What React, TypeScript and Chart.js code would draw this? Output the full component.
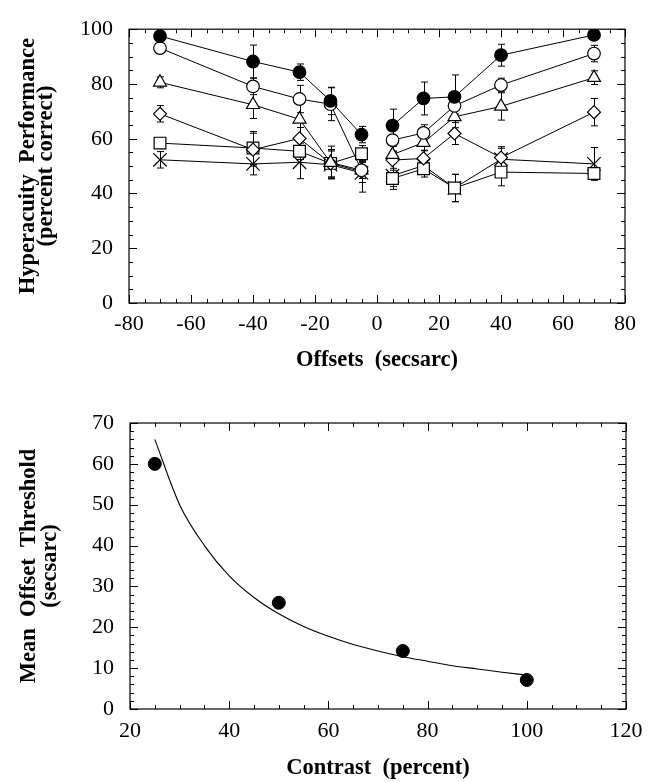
import React, { useEffect, useRef } from "react";
import { Chart, registerables } from "chart.js";

Chart.register(...registerables);

// ---------- Top panel data ----------
const offsets = [-70, -40, -25, -15, -5, 5, 15, 25, 40, 70];
const filledCircle = [97.5, 88.2, 84.3, 73.8, 61.5, 64.8, 74.7, 75.3, 90.5, 97.9];
const filledCircleErr = [1.5, 6, 3, 5, 3, 6, 6, 8, 4, 1.5];
const openCircle = [93.1, 79.1, 74.5, 72.6, 48.5, 59.5, 62.1, 72.0, 79.6, 91.1];
const openCircleErr = [1.5, 3, 5, 6, 3, 4, 3, 3, 2.5, 3];
const triangle = [80.6, 72.4, 67.1, 51.3, 48.5, 54.2, 58.6, 68.0, 71.8, 82.3];
const triangleErr = [2, 5, 6, 6, 3, 3, 3, 4, 5, 2.5];
const diamond = [69.1, 56.0, 60.1, 51.0, 48.0, 52.2, 52.8, 61.9, 53.1, 69.7];
const diamondErr = [3, 6, 4, 5, 4, 3, 3, 4, 4, 5];
const square = [58.4, 56.6, 55.4, 51.0, 54.5, 45.5, 49.0, 42.0, 47.8, 47.3];
const squareErr = [2, 6, 3, 5, 3, 3, 3, 5, 5, 2];
const cross = [52.3, 50.8, 51.4, 50.5, 47.5, 46.5, 50.2, 42.0, 52.5, 50.8];
const crossErr = [3, 4, 6, 5, 7, 5, 3, 5, 4, 6];

const topXTicks = [-80, -60, -40, -20, 0, 20, 40, 60, 80];
const topYTicks = [0, 20, 40, 60, 80, 100];

// ---------- Bottom panel data ----------
const contrast = [25, 50, 75, 100];
const threshold = [60, 26, 14.2, 7.1];
const fitContrast = [25, 30, 35, 40, 45, 50, 55, 60, 65, 70, 75, 80, 85, 90, 95, 100];
const fitThreshold = [66, 50, 40, 32.6, 27.3, 23.3, 20.2, 17.8, 15.8, 14.2, 12.8, 11.7, 10.6, 9.8, 9.0, 8.3];

const bottomXTicks = [20, 40, 60, 80, 100, 120];
const bottomYTicks = [0, 10, 20, 30, 40, 50, 60, 70];

const SERIF = "'Liberation Serif', 'Times New Roman', serif";

function range(min: number, max: number, step: number) {
  const out: number[] = [];
  for (let v = min; v <= max + 1e-9; v += step) out.push(Math.round(v * 1000) / 1000);
  return out;
}

const frameTicksPlugin = {
  id: "frameTicks",
  afterDraw(chart: any) {
    const o = chart.options.plugins.frameTicks;
    if (!o) return;
    const { ctx, chartArea: a } = chart;
    const x = chart.scales.x;
    const y = chart.scales.y;
    ctx.save();
    ctx.strokeStyle = "#000";
    ctx.lineWidth = 1.2;
    ctx.strokeRect(a.left, a.top, a.right - a.left, a.bottom - a.top);
    ctx.lineWidth = 1;
    const drawX = (vals: number[], len: number) => {
      vals.forEach((v) => {
        const px = Math.round(x.getPixelForValue(v)) + 0.5;
        ctx.beginPath();
        ctx.moveTo(px, a.bottom);
        ctx.lineTo(px, a.bottom - len);
        ctx.moveTo(px, a.top);
        ctx.lineTo(px, a.top + len);
        ctx.stroke();
      });
    };
    const drawY = (vals: number[], len: number) => {
      vals.forEach((v) => {
        const py = Math.round(y.getPixelForValue(v)) + 0.5;
        ctx.beginPath();
        ctx.moveTo(a.left, py);
        ctx.lineTo(a.left + len, py);
        ctx.moveTo(a.right, py);
        ctx.lineTo(a.right - len, py);
        ctx.stroke();
      });
    };
    drawX(o.xMinor, 4);
    drawX(o.xMajor, 8);
    drawY(o.yMinor, 4);
    drawY(o.yMajor, 8);
    ctx.restore();
  },
};

const errorBarsPlugin = {
  id: "errorBars",
  beforeDatasetsDraw(chart: any) {
    const y = chart.scales.y;
    const { ctx } = chart;
    ctx.save();
    ctx.strokeStyle = "#000";
    ctx.lineWidth = 1;
    chart.data.datasets.forEach((ds: any, i: number) => {
      if (!ds.errors) return;
      const meta = chart.getDatasetMeta(i);
      meta.data.forEach((pt: any, j: number) => {
        const v = ds.data[j].y;
        const e = ds.errors[j];
        const top = y.getPixelForValue(v + e);
        const bot = y.getPixelForValue(v - e);
        const px = Math.round(pt.x) + 0.5;
        ctx.beginPath();
        ctx.moveTo(px, top);
        ctx.lineTo(px, bot);
        ctx.moveTo(px - 3.5, top);
        ctx.lineTo(px + 3.5, top);
        ctx.moveTo(px - 3.5, bot);
        ctx.lineTo(px + 3.5, bot);
        ctx.stroke();
      });
    });
    ctx.restore();
  },
};

function toPoints(xs: number[], ys: number[]) {
  return xs.map((x, i) => ({ x, y: ys[i] }));
}

function series(data: number[], errors: number[], style: string, radius: number, filled: boolean) {
  return {
    data: toPoints(offsets, data),
    errors,
    borderColor: "#000",
    borderWidth: 1,
    backgroundColor: filled ? "#000" : "#fff",
    pointStyle: style,
    pointRadius: radius,
    pointBorderWidth: 1.2,
    pointBorderColor: "#000",
    pointBackgroundColor: filled ? "#000" : "#fff",
    showLine: true,
    segment: {
      borderColor: (c: any) => (c.p0.parsed.x < 0 && c.p1.parsed.x > 0 ? "rgba(0,0,0,0)" : "#000"),
    },
  };
}

const tickFont = { family: SERIF, size: 22 };
const titleFont = { family: SERIF, size: 22.5, weight: "bold" as const, lineHeight: 1.2 };

function TopChart() {
  const ref = useRef<HTMLCanvasElement>(null);
  useEffect(() => {
    const chart = new Chart(ref.current!, {
      type: "scatter",
      data: {
        datasets: [
          series(filledCircle, filledCircleErr, "circle", 6.3, true),
          series(openCircle, openCircleErr, "circle", 6.3, false),
          series(triangle, triangleErr, "triangle", 7.5, false),
          series(diamond, diamondErr, "rectRot", 6.5, false),
          series(square, squareErr, "rect", 8.3, false),
          series(cross, crossErr, "crossRot", 9.5, false),
        ] as any,
      },
      options: {
        animation: false,
        responsive: false,
        layout: { padding: { top: 18, right: 30, left: 0, bottom: 0 } },
        plugins: {
          legend: { display: false },
          tooltip: { enabled: false },
          frameTicks: {
            xMajor: topXTicks,
            xMinor: range(-80, 80, 5),
            yMajor: topYTicks,
            yMinor: range(0, 100, 5),
          },
        } as any,
        scales: {
          x: {
            type: "linear",
            min: -80,
            max: 80,
            afterBuildTicks: (s: any) => {
              s.ticks = topXTicks.map((v) => ({ value: v }));
            },
            afterFit: (s: any) => {
              s.height = 87;
            },
            grid: { display: false, drawTicks: false },
            border: { display: false },
            ticks: { font: tickFont, color: "#000", padding: 8, maxRotation: 0, autoSkip: false },
            title: {
              display: true,
              text: "Offsets  (secsarc)",
              font: titleFont,
              color: "#000",
              padding: { top: 0, bottom: 16 },
            },
          },
          y: {
            type: "linear",
            min: 0,
            max: 100,
            afterBuildTicks: (s: any) => {
              s.ticks = topYTicks.map((v) => ({ value: v }));
            },
            afterFit: (s: any) => {
              s.width = 129;
            },
            grid: { display: false, drawTicks: false },
            border: { display: false },
            ticks: { font: tickFont, color: "#000", padding: 16, autoSkip: false },
            title: {
              display: true,
              text: ["Hyperacuity  Performance", "(percent correct)"],
              font: { ...titleFont, lineHeight: 0.8 },
              color: "#000",
              padding: { top: 19, bottom: 0 },
            },
          },
        },
      },
      plugins: [frameTicksPlugin, errorBarsPlugin],
    });
    return () => chart.destroy();
  }, []);
  return <canvas ref={ref} width={655} height={390} style={{ display: "block" }} />;
}

function BottomChart() {
  const ref = useRef<HTMLCanvasElement>(null);
  useEffect(() => {
    const chart = new Chart(ref.current!, {
      type: "scatter",
      data: {
        datasets: [
          {
            data: toPoints(contrast, threshold),
            pointStyle: "circle",
            pointRadius: 6.5,
            pointBackgroundColor: "#000",
            pointBorderColor: "#000",
            showLine: false,
          },
          {
            data: toPoints(fitContrast, fitThreshold),
            pointRadius: 0,
            borderColor: "#000",
            borderWidth: 1.1,
            showLine: true,
            tension: 0.4,
            cubicInterpolationMode: "monotone",
          },
        ] as any,
      },
      options: {
        animation: false,
        responsive: false,
        layout: { padding: { top: 33, right: 29, left: 0, bottom: 0 } },
        plugins: {
          legend: { display: false },
          tooltip: { enabled: false },
          frameTicks: {
            xMajor: bottomXTicks,
            xMinor: range(20, 120, 5),
            yMajor: bottomYTicks,
            yMinor: range(0, 70, 2),
          },
        } as any,
        scales: {
          x: {
            type: "linear",
            min: 20,
            max: 120,
            afterBuildTicks: (s: any) => {
              s.ticks = bottomXTicks.map((v) => ({ value: v }));
            },
            afterFit: (s: any) => {
              s.height = 73;
            },
            grid: { display: false, drawTicks: false },
            border: { display: false },
            ticks: { font: tickFont, color: "#000", padding: 9, maxRotation: 0, autoSkip: false },
            title: {
              display: true,
              text: "Contrast  (percent)",
              font: titleFont,
              color: "#000",
              padding: { top: 0, bottom: 0 },
            },
          },
          y: {
            type: "linear",
            min: 0,
            max: 70,
            afterBuildTicks: (s: any) => {
              s.ticks = bottomYTicks.map((v) => ({ value: v }));
            },
            afterFit: (s: any) => {
              s.width = 130;
            },
            grid: { display: false, drawTicks: false },
            border: { display: false },
            ticks: { font: tickFont, color: "#000", padding: 16, autoSkip: false },
            title: {
              display: true,
              text: ["Mean  Offset  Threshold", "(secsarc)"],
              font: { ...titleFont, lineHeight: 0.95 },
              color: "#000",
              padding: { top: 18, bottom: 0 },
            },
          },
        },
      },
      plugins: [frameTicksPlugin],
    });
    return () => chart.destroy();
  }, []);
  return <canvas ref={ref} width={655} height={392} style={{ display: "block" }} />;
}

export default function App() {
  return (
    <div style={{ position: "absolute", left: 0, top: 0, width: 655, height: 782, background: "#fff" }}>
      <TopChart />
      <BottomChart />
    </div>
  );
}
